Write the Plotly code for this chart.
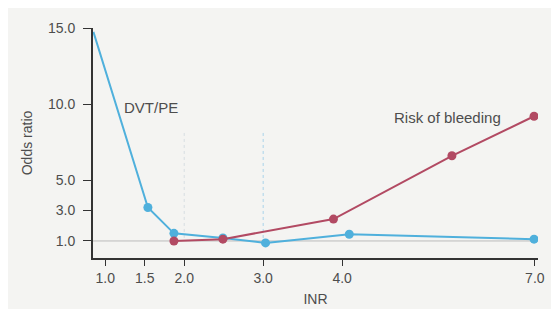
import plotly.graph_objects as go

# x values are positions along the drawn INR axis (axis is compressed beyond 4.0)
tick_pos = [1.0, 1.5, 2.0, 3.0, 4.0, 6.44]
tick_labels = ["1.0", "1.5", "2.0", "3.0", "4.0", "7.0"]

dvt_x = [0.85, 1.54, 1.87, 2.49, 3.03, 4.09, 6.43]
dvt_y = [14.75, 3.2, 1.5, 1.2, 0.87, 1.44, 1.12]

bleed_x = [1.87, 2.49, 3.89, 5.39, 6.43]
bleed_y = [1.0, 1.12, 2.44, 6.6, 9.2]

y_ticks = [1.0, 3.0, 5.0, 10.0, 15.0]

blue = "#4fb0dc"
red = "#b24a63"
txt = "#4d4d4d"

fig = go.Figure()

# reference line at odds ratio 1
fig.add_trace(go.Scatter(x=[0.845, 6.48], y=[1.0, 1.0], mode="lines",
                         line=dict(color="#bcbcbc", width=1), hoverinfo="skip"))
# faint dotted verticals
fig.add_trace(go.Scatter(x=[2.0, 2.0], y=[8.1, 1.0], mode="lines",
                         line=dict(color="#d6dde2", width=1, dash="dot"), hoverinfo="skip"))
fig.add_trace(go.Scatter(x=[3.0, 3.0], y=[8.1, 1.0], mode="lines",
                         line=dict(color="#a9d3ea", width=1, dash="dot"), hoverinfo="skip"))

fig.add_trace(go.Scatter(x=dvt_x, y=dvt_y, mode="lines+markers", name="DVT/PE",
                         line=dict(color=blue, width=2),
                         marker=dict(color=blue, size=9, opacity=[0, 1, 1, 1, 1, 1, 1])))
fig.add_trace(go.Scatter(x=bleed_x, y=bleed_y, mode="lines+markers", name="Risk of bleeding",
                         line=dict(color=red, width=2),
                         marker=dict(color=red, size=9)))

fig.add_annotation(x=1.58, y=9.75, text="DVT/PE", showarrow=False,
                   font=dict(size=15, color=txt))
fig.add_annotation(x=5.33, y=9.1, text="Risk of bleeding", showarrow=False,
                   font=dict(size=15, color=txt))

fig.update_layout(
    width=559, height=309,
    margin=dict(l=85, r=29, t=16, b=51),
    paper_bgcolor="#f4f4f2", plot_bgcolor="#f4f4f2",
    showlegend=False,
    font=dict(family="Liberation Sans, Arial, sans-serif", size=14, color=txt),
)
fig.update_xaxes(range=[0.845, 6.48], tickvals=tick_pos, ticktext=tick_labels,
                 showgrid=False, zeroline=False, showline=True, linecolor="#333333",
                 linewidth=2, ticks="outside", ticklen=6, tickcolor="#333333",
                 title=dict(text="INR", standoff=9, font=dict(size=14, color=txt)))
fig.update_yaxes(range=[-0.12, 15.0], tickvals=y_ticks,
                 ticktext=["1.0", "3.0", "5.0", "10.0", "15.0"],
                 showgrid=False, zeroline=False, showline=True, linecolor="#333333",
                 linewidth=2, ticks="outside", ticklen=8, tickcolor="#333333",
                 ticklabelstandoff=5,
                 title=dict(text="Odds ratio", standoff=12, font=dict(size=14, color=txt)))

fig.write_html("out.html")
